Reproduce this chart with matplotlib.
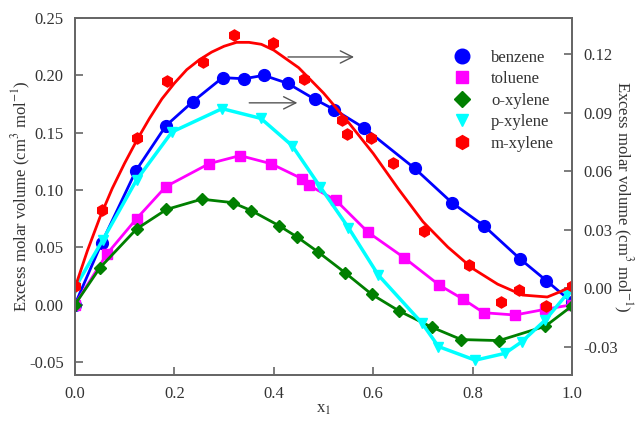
import numpy as np
import matplotlib
matplotlib.use("Agg")
import matplotlib.pyplot as plt
from matplotlib.lines import Line2D
from matplotlib.ticker import FormatStrFormatter

plt.rcParams["font.family"] = ["Liberation Serif", "DejaVu Serif"]
plt.rcParams["mathtext.fontset"] = "stix"

# ---- data (left axis) ----
x_benz = [0, 0.054, 0.123, 0.183, 0.237, 0.297, 0.340, 0.380, 0.428, 0.483, 0.522,
          0.582, 0.683, 0.758, 0.822, 0.895, 0.948, 1.0]
y_benz = [0, 0.054, 0.117, 0.156, 0.177, 0.198, 0.197, 0.200, 0.193, 0.179, 0.170,
          0.154, 0.119, 0.089, 0.069, 0.040, 0.021, 0.002]

x_tol = [0, 0.064, 0.124, 0.183, 0.270, 0.332, 0.394, 0.456, 0.471, 0.525, 0.590,
         0.662, 0.733, 0.780, 0.822, 0.885, 0.946, 1.0]
y_tol = [0, 0.044, 0.075, 0.103, 0.123, 0.130, 0.123, 0.110, 0.104, 0.091, 0.063,
         0.041, 0.017, 0.005, -0.007, -0.009, -0.004, 0.0]

x_oxy = [0, 0.050, 0.124, 0.184, 0.255, 0.317, 0.355, 0.410, 0.447, 0.489, 0.543,
         0.597, 0.652, 0.718, 0.777, 0.853, 0.946, 1.0]
y_oxy = [0, 0.032, 0.066, 0.083, 0.092, 0.089, 0.082, 0.069, 0.059, 0.046, 0.028,
         0.009, -0.0055, -0.0197, -0.0304, -0.0313, -0.0188, -0.001]

# ---- data (right axis) ----
x_pxy = [0, 0.056, 0.124, 0.195, 0.296, 0.374, 0.437, 0.493, 0.550, 0.610, 0.698,
         0.731, 0.805, 0.865, 0.899, 0.946, 0.99]
y_pxy = [0.0, 0.0246, 0.0554, 0.080, 0.092, 0.087, 0.073, 0.052, 0.031, 0.0067, -0.018,
         -0.030, -0.037, -0.0335, -0.0275, -0.0164, -0.003]

x_mxy = [0, 0.054, 0.124, 0.186, 0.258, 0.320, 0.399, 0.461, 0.537, 0.547, 0.595,
         0.639, 0.703, 0.793, 0.857, 0.894, 0.948, 1.0]
y_mxy = [0.001, 0.040, 0.077, 0.106, 0.116, 0.130, 0.1255, 0.107, 0.086, 0.079, 0.077,
         0.064, 0.029, 0.012, -0.007, -0.001, -0.009, 0.001]

# fitted m-xylene curve
x_mfit = [0, 0.025, 0.05, 0.075, 0.10, 0.125, 0.15, 0.175, 0.20, 0.225, 0.25, 0.275,
          0.30, 0.325, 0.35, 0.375, 0.40, 0.45, 0.50, 0.55, 0.60, 0.65, 0.70, 0.75,
          0.80, 0.85, 0.90, 0.95, 0.975, 1.0]
y_mfit = [0.0, 0.019, 0.036, 0.051, 0.064, 0.076, 0.087, 0.097, 0.105, 0.112, 0.117, 0.121,
          0.124, 0.126, 0.126, 0.125, 0.122, 0.113, 0.100, 0.085, 0.069, 0.051, 0.034, 0.021,
          0.010, 0.002, -0.0036, -0.0046, -0.002, 0.001]

BLUE, MAG, GRN, CYN, RED = "#0000ff", "#ff00ff", "#007f00", "#00ffff", "#ff0000"
SPINE = "#666666"

fig = plt.figure(figsize=(6.4, 4.24), dpi=100)
ax = fig.add_axes([0.117, 0.1156, 0.777, 0.842])
ax2 = ax.twinx()

ax.plot(x_benz, y_benz, "-o", color=BLUE, lw=2, ms=8.5)
ax.plot(x_tol, y_tol, "-s", color=MAG, lw=2, ms=6.5)
ax.plot(x_oxy, y_oxy, "-D", color=GRN, lw=2, ms=6.5)
ax2.plot(x_pxy, y_pxy, "-v", color=CYN, lw=2.5, ms=6.5)
ax2.plot(x_mfit, y_mfit, "-", color=RED, lw=2)
ax2.plot(x_mxy, y_mxy, "h", color=RED, ms=8)

ax.set_xlim(0, 1.0)
ax.set_ylim(-0.0613, 0.25)
ax2.set_ylim(-0.0446, 0.1385)
ax.set_xticks(np.arange(0, 1.01, 0.2))
ax.set_yticks(np.arange(-0.05, 0.251, 0.05))
ax2.set_yticks(np.arange(-0.03, 0.121, 0.03))
ax.xaxis.set_major_formatter(FormatStrFormatter("%.1f"))
ax.yaxis.set_major_formatter(FormatStrFormatter("%.2f"))
ax2.yaxis.set_major_formatter(FormatStrFormatter("%.2f"))

for a in (ax, ax2):
    for s in a.spines.values():
        s.set_color(SPINE)
        s.set_linewidth(1.3)
ax.tick_params(direction="in", length=6, width=1.2, color=SPINE, labelsize=12,
               labelcolor="#333333", pad=8, top=False, right=False)
ax2.tick_params(direction="in", length=6, width=1.2, color=SPINE, labelsize=12,
                labelcolor="#333333", pad=8)

ax.set_xlabel("x$_1$", fontsize=12, color="#333333", labelpad=-1)
ax.set_ylabel("Excess molar volume (cm$^3$ mol$^{-1}$)", fontsize=12, color="#333333",
              labelpad=-3)
ax2.set_ylabel("Excess molar volume (cm$^3$ mol$^{-1}$)", fontsize=12, color="#333333",
               rotation=270, labelpad=12)

# arrows pointing to the right-hand axis
arrow_kw = dict(arrowstyle="->", color="#555555", lw=1.0, mutation_scale=22)
ax.annotate("", xy=(0.567, 0.216), xytext=(0.423, 0.216), arrowprops=arrow_kw)
ax.annotate("", xy=(0.453, 0.176), xytext=(0.345, 0.176), arrowprops=arrow_kw)

handles = [
    Line2D([], [], ls="none", marker="o", color=BLUE, ms=10.5),
    Line2D([], [], ls="none", marker="s", color=MAG, ms=8),
    Line2D([], [], ls="none", marker="D", color=GRN, ms=8),
    Line2D([], [], ls="none", marker="v", color=CYN, ms=9),
    Line2D([], [], ls="none", marker="h", color=RED, ms=10),
]
labels = ["benzene", "toluene", "o-xylene", "p-xylene", "m-xylene"]
ax2.legend(handles, labels, loc="upper left", bbox_to_anchor=(0.702, 0.883),
           bbox_transform=fig.transFigure, frameon=False, fontsize=12,
           handlelength=1.5, handletextpad=1.0, labelspacing=0.33,
           borderpad=0, borderaxespad=0, labelcolor="#333333")

fig.savefig("out.png", dpi=100)
